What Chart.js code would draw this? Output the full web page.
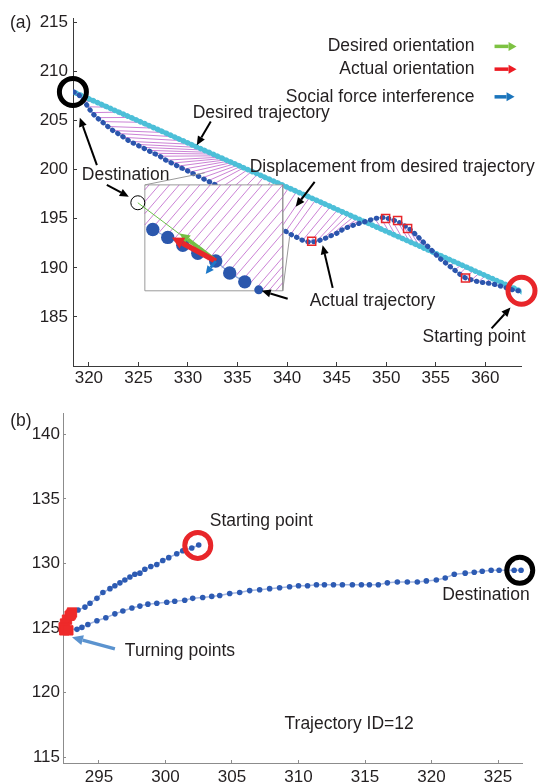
<!DOCTYPE html>
<html>
<head>
<meta charset="utf-8">
<script src="https://cdn.jsdelivr.net/npm/chart.js"></script>
<style>
  html, body { margin: 0; padding: 0; background: #ffffff; }
  #wrap { position: relative; width: 540px; height: 784px; overflow: hidden; }
  canvas { position: absolute; left: 0; }
</style>
</head>
<body>
<div id="wrap">
  <canvas id="ca" width="540" height="395" style="top:0"></canvas>
  <canvas id="cb" width="540" height="389" style="top:395px"></canvas>
</div>
<script>
// ---------------- Panel (a) data ----------------
const xTicksA = [320, 325, 330, 335, 340, 345, 350, 355, 360];
const yTicksA = [185, 190, 195, 200, 205, 210, 215];

const actualX = [318.49, 318.99, 319.50, 319.90, 320.30, 320.81, 321.31, 321.91, 322.42, 322.92, 323.53, 324.13, 324.74, 325.34, 325.95, 326.55, 327.16, 327.76, 328.37, 328.97, 329.58, 330.18, 330.79, 331.39, 331.99, 332.60, 333.31, 334.01, 334.82, 335.62, 336.43, 337.24, 338.04, 338.75, 339.35, 339.86, 340.36, 340.97, 341.57, 342.28, 342.98, 343.59, 344.29, 345.00, 345.60, 346.31, 346.91, 347.62, 348.23, 348.83, 349.44, 349.94, 350.54, 351.15, 351.65, 352.16, 352.66, 353.06, 353.47, 353.87, 354.38, 354.88, 355.38, 355.89, 356.39, 356.89, 357.40, 358.00, 358.61, 359.31, 360.02, 360.73, 361.43, 362.14, 362.74, 363.35];
const actualY = [207.92, 207.62, 207.02, 206.41, 205.81, 205.30, 204.90, 204.40, 203.99, 203.69, 203.29, 202.88, 202.58, 202.28, 201.97, 201.67, 201.37, 200.97, 200.67, 200.36, 200.06, 199.76, 199.46, 199.15, 198.85, 198.55, 198.15, 197.74, 197.24, 196.73, 196.23, 195.62, 195.02, 194.42, 194.01, 193.71, 193.41, 193.11, 192.80, 192.60, 192.70, 192.90, 193.21, 193.51, 193.91, 194.21, 194.42, 194.62, 194.82, 195.02, 195.12, 195.12, 194.92, 194.72, 194.42, 194.11, 193.71, 193.31, 192.90, 192.50, 192.00, 191.49, 190.99, 190.58, 190.18, 189.78, 189.38, 188.97, 188.77, 188.57, 188.47, 188.37, 188.17, 187.96, 187.76, 187.66];

const desiredX = [318.69, 319.29, 320.81, 321.91, 323.02, 324.23, 325.34, 326.65, 327.66, 328.57, 329.48, 330.28, 330.99, 331.59, 332.10, 332.50, 332.90, 333.21, 333.51, 333.81, 334.11, 334.42, 334.72, 335.02, 335.32, 335.62, 336.03, 336.43, 337.04, 337.64, 338.45, 339.25, 340.16, 340.97, 341.67, 342.28, 342.88, 343.69, 344.39, 345.10, 345.70, 346.21, 346.71, 347.12, 347.42, 347.72, 347.92, 348.23, 348.83, 349.64, 350.34, 350.95, 351.65, 352.36, 352.86, 353.37, 353.87, 354.27, 354.58, 354.88, 355.18, 355.48, 355.99, 356.49, 356.99, 357.60, 358.10, 358.81, 359.41, 360.02, 360.62, 361.23, 361.83, 362.44, 362.94, 363.75];
const desiredY = [207.81, 207.54, 206.86, 206.36, 205.86, 205.32, 204.82, 204.23, 203.78, 203.36, 202.95, 202.59, 202.27, 202.00, 201.77, 201.59, 201.41, 201.27, 201.14, 201.00, 200.87, 200.73, 200.60, 200.46, 200.33, 200.19, 200.01, 199.83, 199.56, 199.28, 198.92, 198.56, 198.15, 197.78, 197.47, 197.19, 196.92, 196.56, 196.24, 195.92, 195.65, 195.43, 195.20, 195.02, 194.88, 194.75, 194.66, 194.52, 194.25, 193.88, 193.57, 193.29, 192.98, 192.66, 192.44, 192.21, 191.98, 191.80, 191.66, 191.52, 191.39, 191.25, 191.02, 190.80, 190.57, 190.30, 190.07, 189.75, 189.48, 189.21, 188.94, 188.67, 188.40, 188.12, 187.90, 187.53];

const turnAX = [342.48, 349.94, 351.15, 352.16, 358.00];
const turnAY = [192.70, 195.02, 194.82, 194.01, 188.97];

const destA = [318.39, 207.92];
const startA = [363.65, 187.66];

// zoomed inset (a)
const insetBoxX = [325.65, 339.56, 339.56, 325.65, 325.65];
const insetBoxY = [198.45, 198.45, 187.66, 187.66, 198.45];
const connectors = [[325.65, 198.45, 331.69, 199.68], [339.56, 187.66, 340.26, 193.21]];
const insetDotX = [326.45, 327.96, 329.48, 330.99, 332.80, 334.21, 335.73];
const insetDotY = [193.91, 193.10, 192.30, 191.49, 190.69, 189.48, 188.57];
const insetEdgeDot = [337.14, 187.76];
const insetDest = [324.94, 196.63];
const insetHatch = [
  [325.645,194.365, 329.113,198.448], [326.351,193.972, 330.161,198.448], [327.056,193.569, 331.200,198.448],
  [327.762,193.165, 332.248,198.448], [328.468,192.772, 333.296,198.448], [329.173,192.369, 334.335,198.448],
  [329.879,191.976, 335.383,198.448], [330.585,191.573, 336.431,198.448], [331.290,191.169, 337.480,198.448],
  [331.996,190.776, 338.518,198.448], [332.702,190.373, 339.556,198.448], [333.407,189.970, 339.556,197.208],
  [334.113,189.577, 339.556,195.978], [334.819,189.173, 339.556,194.748], [335.524,188.780, 339.556,193.528],
  [336.230,188.377, 339.556,192.288], [336.935,187.974, 339.556,191.058], [337.440,187.661, 339.556,190.151],
  [338.145,187.661, 339.556,189.325], [338.851,187.661, 339.556,188.488], [325.645,195.524, 328.135,198.448],
  [325.645,196.734, 327.107,198.448], [325.645,197.944, 326.074,198.448]
];

// ---------------- Panel (b) data ----------------
const xTicksB = [295, 300, 305, 310, 315, 320, 325];
const yTicksB = [115, 120, 125, 130, 135, 140];
const bX = [302.50, 301.98, 301.30, 300.85, 300.25, 299.80, 299.35, 298.90, 298.45, 298.08, 297.70, 297.33, 296.95, 296.58, 296.20, 295.83, 295.30, 294.85, 294.33, 293.95, 293.43, 292.98, 292.67, 292.52, 292.45, 292.82, 293.35, 293.72, 294.17, 294.85, 295.52, 296.20, 296.80, 297.48, 298.08, 298.68, 299.35, 300.10, 300.70, 301.45, 302.05, 302.80, 303.48, 304.08, 304.83, 305.58, 306.33, 307.08, 307.83, 308.58, 309.33, 310.00, 310.68, 311.35, 311.95, 312.63, 313.30, 314.05, 314.73, 315.33, 316.00, 316.68, 317.43, 318.18, 318.93, 319.61, 320.36, 321.03, 321.71, 322.53, 323.21, 323.81, 324.48, 325.08, 326.21, 326.73];
const bY = [131.43, 131.20, 130.98, 130.75, 130.45, 130.23, 129.92, 129.77, 129.55, 129.25, 129.17, 128.95, 128.72, 128.50, 128.27, 128.05, 127.75, 127.30, 126.92, 126.62, 126.40, 126.17, 125.87, 125.42, 124.97, 124.90, 124.90, 125.05, 125.27, 125.57, 125.80, 126.10, 126.32, 126.55, 126.70, 126.85, 126.92, 127.00, 127.07, 127.15, 127.30, 127.37, 127.45, 127.52, 127.67, 127.75, 127.90, 127.97, 128.05, 128.12, 128.20, 128.27, 128.27, 128.35, 128.35, 128.35, 128.35, 128.35, 128.35, 128.35, 128.35, 128.50, 128.57, 128.57, 128.57, 128.65, 128.72, 128.87, 129.17, 129.25, 129.32, 129.40, 129.47, 129.47, 129.47, 129.47];
const turnBX = [292.975, 292.80, 292.60, 292.45, 292.35, 292.40, 292.70, 292.90];
const turnBY = [126.20, 125.95, 125.65, 125.35, 125.05, 124.82, 124.82, 126.05];
const startB = [302.43, 131.40];
const destB = [326.63, 129.47];

// ---------------- helpers ----------------
const FONT = "'Liberation Sans', Arial, Helvetica, sans-serif";
const TXT = '#231f20';
const pts = (xs, ys) => xs.map((v, i) => ({ x: v, y: ys[i] }));
const segs = list => { const out = []; list.forEach(s => { out.push({x: s[0], y: s[1]}, {x: s[2], y: s[3]}, {x: null, y: null}); }); return out; };

function drawArrow(ctx, x1, y1, x2, y2, color, w, hl, hw) {
  const ang = Math.atan2(y2 - y1, x2 - x1);
  const bx = x2 - hl * Math.cos(ang), by = y2 - hl * Math.sin(ang);
  ctx.strokeStyle = color; ctx.fillStyle = color; ctx.lineWidth = w; ctx.lineCap = 'butt';
  ctx.beginPath(); ctx.moveTo(x1, y1); ctx.lineTo(hl > 0 ? bx : x2, hl > 0 ? by : y2); ctx.stroke();
  if (hl > 0) {
    ctx.beginPath();
    ctx.moveTo(x2, y2);
    ctx.lineTo(bx + hw / 2 * Math.sin(ang), by - hw / 2 * Math.cos(ang));
    ctx.lineTo(bx - hw / 2 * Math.sin(ang), by + hw / 2 * Math.cos(ang));
    ctx.closePath(); ctx.fill();
  }
}
function makeAnnot(cfg) {
  return {
    id: 'annot',
    afterDatasetsDraw(chart) {
      const ctx = chart.ctx, sx = chart.scales.x, sy = chart.scales.y;
      const px = v => sx.getPixelForValue(v), py = v => sy.getPixelForValue(v);
      ctx.save();
      cfg.arrows.forEach(a => drawArrow(ctx, px(a.p[0]), py(a.p[1]), px(a.p[2]), py(a.p[3]), a.c, a.w, a.hl, a.hw));
      ctx.font = '17.5px ' + FONT; ctx.fillStyle = TXT; ctx.textBaseline = 'middle';
      cfg.texts.forEach(t => { ctx.textAlign = t.a || 'left'; ctx.fillText(t.t, px(t.x), py(t.y)); });
      ctx.restore();
    }
  };
}
function axis(min, max, ticks, isX, size, tl, pad, color) {
  return {
    type: 'linear', min: min, max: max,
    afterBuildTicks: s => { s.ticks = ticks.map(v => ({ value: v })); },
    afterFit: s => {
      if (isX) { s.height = size; } else { s.width = size; }
      s.paddingLeft = 0; s.paddingRight = 0; s.paddingTop = 0; s.paddingBottom = 0;
    },
    grid: { display: true, drawOnChartArea: false, drawTicks: true, tickLength: tl, tickColor: color, tickWidth: 1, color: color },
    border: { display: true, color: color, width: 1 },
    ticks: { padding: pad, color: TXT, font: { family: FONT, size: 17 }, maxRotation: 0, autoSkip: false }
  };
}
const baseOpts = (scales, padding) => ({
  responsive: false, devicePixelRatio: 1, animation: false, events: [],
  layout: { padding: padding },
  plugins: { legend: { display: false }, tooltip: { enabled: false } },
  scales: scales
});

// ---------------- chart (a) ----------------
const hatchA = [];
for (let i = 0; i < Math.min(actualX.length, desiredX.length); i++) {
  hatchA.push({x: actualX[i], y: actualY[i]}, {x: desiredX[i], y: desiredY[i]}, {x: null, y: null});
}
const lineDS = (data, color, w, order, extra) => Object.assign({
  data: data, showLine: true, borderColor: color, borderWidth: w, pointRadius: 0, order: order, spanGaps: false, fill: false
}, extra || {});

new Chart(document.getElementById('ca'), {
  type: 'scatter',
  data: { datasets: [
    lineDS(hatchA, 'rgba(178,70,192,0.85)', 0.8, 30),
    lineDS(pts(desiredX, desiredY), '#66cbe0', 2.2, 29),
    lineDS(pts(desiredX, desiredY), '#4cbfd8', 5.5, 28, { borderDash: [0.5, 4.2], borderCapStyle: 'round' }),
    lineDS(pts(actualX, actualY), '#7f9bd8', 1, 27),
    lineDS(pts(actualX, actualY), '#2b55ad', 5, 26, { borderDash: [0.5, 5.6], borderCapStyle: 'round' }),
    { data: pts(turnAX, turnAY), showLine: false, pointStyle: 'rect', pointRadius: 5.7, borderColor: '#e8262a', borderWidth: 1.5, backgroundColor: 'rgba(0,0,0,0)', order: 25 },
    lineDS(pts(insetBoxX, insetBoxY), '#9a9a9a', 1, 24, { fill: 'shape', backgroundColor: '#ffffff' }),
    lineDS(segs(connectors), '#9a9a9a', 1, 23),
    lineDS(segs(insetHatch), 'rgba(178,70,192,0.85)', 0.8, 22),
    lineDS(pts(insetDotX, insetDotY), '#8ea8dc', 1.2, 21),
    { data: pts(insetDotX, insetDotY), showLine: false, pointRadius: 6.7, pointBorderWidth: 0, backgroundColor: '#2b57ad', order: 20 },
    { data: [{x: insetEdgeDot[0], y: insetEdgeDot[1]}], showLine: false, pointRadius: 4.5, pointBorderWidth: 0, backgroundColor: '#2b57ad', order: 20 },
    { data: [{x: insetDest[0], y: insetDest[1]}], showLine: false, pointRadius: 7, borderWidth: 1, borderColor: '#000', backgroundColor: 'rgba(0,0,0,0)', order: 19 },
    { data: [{x: destA[0], y: destA[1]}], showLine: false, pointRadius: 13.5, borderWidth: 5, borderColor: '#000', backgroundColor: 'rgba(0,0,0,0)', order: 2, clip: false },
    { data: [{x: startA[0], y: startA[1]}], showLine: false, pointRadius: 13.5, borderWidth: 5, borderColor: '#e8262a', backgroundColor: 'rgba(0,0,0,0)', order: 2, clip: false }
  ]},
  options: baseOpts({
    x: axis(318.4, 363.65, xTicksA, true, 29, -4, 6, '#3a3a3a'),
    y: axis(180, 215.4, yTicksA, false, 73, -4, 9, '#3a3a3a')
  }, { left: 0, right: 18, top: 15, bottom: 0 }),
  plugins: [makeAnnot({
    arrows: [
      { p: [324.94, 196.63, 332.80, 190.69], c: '#6cc24a', w: 1, hl: 0, hw: 0 },
      { p: [332.60, 190.89, 329.17, 193.51], c: '#72c045', w: 4, hl: 10, hw: 10 },
      { p: [332.80, 190.69, 328.37, 193.10], c: '#e8262a', w: 5.5, hl: 12, hw: 12 },
      { p: [332.80, 190.69, 331.79, 189.38], c: '#1e78c8', w: 3, hl: 8, hw: 8 },
      { p: [360.93, 212.56, 363.15, 212.56], c: '#7dc242', w: 3.5, hl: 8, hw: 9 },
      { p: [360.93, 210.24, 363.15, 210.24], c: '#ed1c24', w: 3.5, hl: 8, hw: 9 },
      { p: [360.93, 207.42, 362.95, 207.42], c: '#1b75bc', w: 3.5, hl: 8, hw: 9 },
      { p: [320.81, 200.46, 319.09, 205.30], c: '#000', w: 2, hl: 9, hw: 8 },
      { p: [321.81, 198.45, 324.03, 197.24], c: '#000', w: 2, hl: 9, hw: 8 },
      { p: [332.30, 204.90, 330.89, 202.48], c: '#000', w: 2, hl: 9, hw: 8 },
      { p: [342.78, 198.75, 340.87, 196.23], c: '#000', w: 2, hl: 9, hw: 8 },
      { p: [344.60, 187.96, 343.59, 192.30], c: '#000', w: 2, hl: 9, hw: 8 },
      { p: [340.06, 186.85, 337.44, 187.66], c: '#000', w: 2, hl: 9, hw: 8 },
      { p: [360.63, 183.83, 362.54, 185.95], c: '#000', w: 2, hl: 9, hw: 8 }
    ],
    texts: [
      { t: '(a)', x: 312.04, y: 214.88 },
      { t: 'Desired orientation', x: 358.91, y: 212.56, a: 'right' },
      { t: 'Actual orientation', x: 358.91, y: 210.24, a: 'right' },
      { t: 'Social force interference', x: 358.91, y: 207.42, a: 'right' },
      { t: 'Desired trajectory', x: 330.48, y: 205.71 },
      { t: 'Destination', x: 319.29, y: 199.46 },
      { t: 'Displacement from desired trajectory', x: 336.23, y: 200.26 },
      { t: 'Actual trajectory', x: 342.28, y: 186.65 },
      { t: 'Starting point', x: 353.67, y: 182.92 }
    ]
  })]
});

// ---------------- chart (b) ----------------
new Chart(document.getElementById('cb'), {
  type: 'scatter',
  data: { datasets: [
    { data: pts(bX, bY), showLine: true, borderColor: '#a4b6e0', borderWidth: 1.5, pointRadius: 2.8, pointBorderWidth: 0, pointBackgroundColor: '#2d5bb3', backgroundColor: '#2d5bb3', order: 5, clip: false },
    { data: pts(turnBX, turnBY), showLine: false, pointStyle: 'rect', pointRadius: 6.6, pointBorderWidth: 1, pointBorderColor: '#ee2a2a', pointBackgroundColor: '#ee2a2a', borderColor: '#ee2a2a', backgroundColor: '#ee2a2a', order: 3, clip: false },
    { data: [{x: startB[0], y: startB[1]}], showLine: false, pointRadius: 13, borderWidth: 5, borderColor: '#e8262a', backgroundColor: 'rgba(0,0,0,0)', order: 1, clip: false },
    { data: [{x: destB[0], y: destB[1]}], showLine: false, pointRadius: 13, borderWidth: 5, borderColor: '#000', backgroundColor: 'rgba(0,0,0,0)', order: 1, clip: false }
  ]},
  options: baseOpts({
    x: axis(292.3, 326.8, xTicksB, true, 21, -3, 7, '#8c8c8c'),
    y: axis(114.55, 141.65, yTicksB, false, 63, -3, 6, '#8c8c8c')
  }, { left: 0, right: 17, top: 7, bottom: 0 }),
  plugins: [makeAnnot({
    arrows: [
      { p: [296.20, 123.39, 292.975, 124.29], c: '#5b93cf', w: 3.5, hl: 11, hw: 10 }
    ],
    texts: [
      { t: '(b)', x: 288.33, y: 141.04 },
      { t: 'Starting point', x: 303.33, y: 133.30 },
      { t: 'Destination', x: 320.80, y: 127.52 },
      { t: 'Turning points', x: 296.95, y: 123.24 },
      { t: 'Trajectory ID=12', x: 308.95, y: 117.54 }
    ]
  })]
});
</script>
</body>
</html>
